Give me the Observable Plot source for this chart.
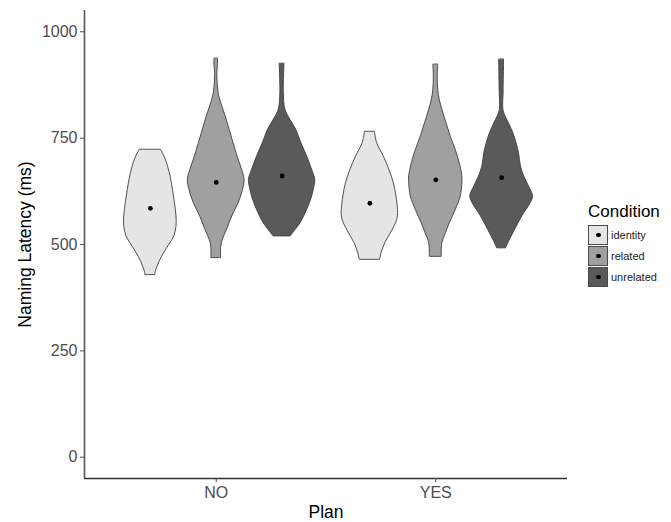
<!DOCTYPE html>
<html>
<head>
<meta charset="utf-8">
<script src="https://cdn.jsdelivr.net/npm/d3@7"></script>
<script src="https://cdn.jsdelivr.net/npm/@observablehq/plot@0.6"></script>
<style>
  html, body { margin: 0; padding: 0; background: #fff; }
  #wrap { position: relative; width: 671px; height: 522px; font-family: "Liberation Sans", Arial, sans-serif; }
  #legend { position: absolute; left: 588px; top: 202px; }
  #legend .title { font-size: 17px; color: #000; line-height: 20px; height: 22px; }
  #legend .row { display: flex; align-items: center; height: 21px; }
  #legend .key { width: 18px; height: 18px; border: 1px solid #4a4a4a; position: relative; box-sizing: content-box; }
  #legend .key span { position: absolute; left: 7px; top: 7px; width: 4.5px; height: 4.5px; border-radius: 50%; background: #000; }
  #legend .lab { font-size: 11px; color: #1a1a1a; margin-left: 3px; }
</style>
</head>
<body>
<div id="wrap"></div>
<script>
// ---- data ----
const plans = ["NO", "YES"];
const conditions = ["identity", "related", "unrelated"];
const conditionFills = ["#e5e5e5", "#a0a0a0", "#5a5a5a"];
const yTicks = [0, 250, 500, 750, 1000];

// centre dots (ms), per condition
const meansNO = [585, 646, 661];
const meansYES = [597, 652, 657];

// violin outlines: [latency ms, half-width in x-units]
const noIdentity = [[722,0.049],[707,0.064],[691,0.076],[660,0.092],[628,0.103],[597,0.112],[566,0.119],[542,0.119],[519,0.109],[503,0.091],[471,0.053],[448,0.033],[432,0.023],[428,0.023]];
const noRelated = [[936,0.008],[920,0.008],[903,0.005],[856,0.011],[832,0.023],[801,0.043],[770,0.061],[738,0.079],[707,0.097],[675,0.118],[652,0.129],[628,0.122],[597,0.102],[566,0.073],[534,0.049],[511,0.030],[495,0.023],[468,0.022]];
const noUnrelated = [[924,0.011],[856,0.008],[817,0.015],[793,0.038],[770,0.064],[738,0.088],[707,0.114],[675,0.137],[652,0.151],[628,0.144],[613,0.137],[581,0.114],[550,0.084],[526,0.049],[519,0.039]];
const yesIdentity = [[764,0.023],[738,0.033],[707,0.063],[675,0.089],[644,0.109],[613,0.121],[581,0.128],[566,0.128],[550,0.119],[526,0.095],[503,0.070],[479,0.053],[464,0.046]];
const yesRelated = [[922,0.011],[895,0.009],[864,0.011],[840,0.018],[817,0.030],[785,0.049],[754,0.068],[722,0.091],[691,0.109],[660,0.121],[644,0.121],[613,0.114],[581,0.091],[550,0.064],[526,0.046],[503,0.030],[471,0.027]];
const yesUnrelated = [[934,0.011],[860,0.009],[817,0.008],[801,0.018],[785,0.033],[762,0.053],[738,0.068],[715,0.079],[683,0.088],[660,0.103],[636,0.125],[613,0.143],[597,0.132],[566,0.094],[534,0.061],[511,0.038],[491,0.020]];

// ---- build tables ----
const xDomain = [0.4, 2.6];
const yDomain = [-50, 1050];
const dodge = 0.3; // width 0.9 split over three conditions
const profiles = [[noIdentity, noRelated, noUnrelated], [yesIdentity, yesRelated, yesUnrelated]];
const means = [meansNO, meansYES];

const rows = profiles.flatMap((group, pi) => group.flatMap((prof, ci) =>
  prof.map(([ms, hw]) => ({plan: plans[pi], cond: conditions[ci], key: pi + "-" + ci,
    center: pi + 1 + (ci - 1) * dodge, ms, hw}))));
const meanRows = means.flatMap((m, pi) => m.map((v, ci) => ({plan: plans[pi], cond: conditions[ci],
  center: pi + 1 + (ci - 1) * dodge, mean: v})));

const chart = Plot.plot({
  width: 671,
  height: 522,
  marginLeft: 84,
  marginRight: 104,
  marginTop: 10,
  marginBottom: 44,
  style: {fontFamily: "'Liberation Sans', Arial, sans-serif", background: "#fff", color: "#000"},
  x: {type: "linear", domain: xDomain, axis: null, label: null},
  y: {domain: yDomain, axis: null, label: null},
  color: {domain: conditions, range: conditionFills},
  marks: [
    Plot.areaX(rows, {y: "ms", x1: d => d.center - d.hw, x2: d => d.center + d.hw, z: "key",
      fill: "cond", stroke: "#3d3d3d", strokeWidth: 0.9, curve: "catmull-rom"}),
    Plot.dot(meanRows, {x: "center", y: "mean", r: 2.4, fill: "#000", stroke: "none"}),
    Plot.ruleX([xDomain[0]], {stroke: "#555", strokeWidth: 1.6}),
    Plot.ruleY([yDomain[0]], {stroke: "#333", strokeWidth: 1.3}),
    Plot.axisY({ticks: yTicks, tickFormat: d => String(d), tickSize: 4, tickPadding: 3, fontSize: 16,
      color: "#4d4d4d", label: null}),
    Plot.axisY({ticks: [], tickSize: 0, fontSize: 17.5, color: "#000", label: "Naming Latency (ms)",
      labelArrow: "none", labelAnchor: "center", labelOffset: 66}),
    Plot.axisX({ticks: [1, 2], tickFormat: i => plans[i - 1], tickSize: 4, tickPadding: 4, fontSize: 16,
      color: "#4d4d4d", label: null}),
    Plot.axisX({ticks: [], tickSize: 0, fontSize: 17.5, color: "#000", label: "Plan",
      labelArrow: "none", labelAnchor: "center", labelOffset: 39})
  ]
});

const wrap = document.getElementById("wrap");
wrap.appendChild(chart);

// legend (HTML, right of the panel as in the reference)
const legend = document.createElement("div");
legend.id = "legend";
const t = document.createElement("div");
t.className = "title";
t.textContent = "Condition";
legend.appendChild(t);
conditions.forEach((c, i) => {
  const row = document.createElement("div");
  row.className = "row";
  const key = document.createElement("div");
  key.className = "key";
  key.style.background = conditionFills[i];
  key.appendChild(document.createElement("span"));
  const lab = document.createElement("div");
  lab.className = "lab";
  lab.textContent = c;
  row.appendChild(key);
  row.appendChild(lab);
  legend.appendChild(row);
});
wrap.appendChild(legend);
</script>
</body>
</html>
